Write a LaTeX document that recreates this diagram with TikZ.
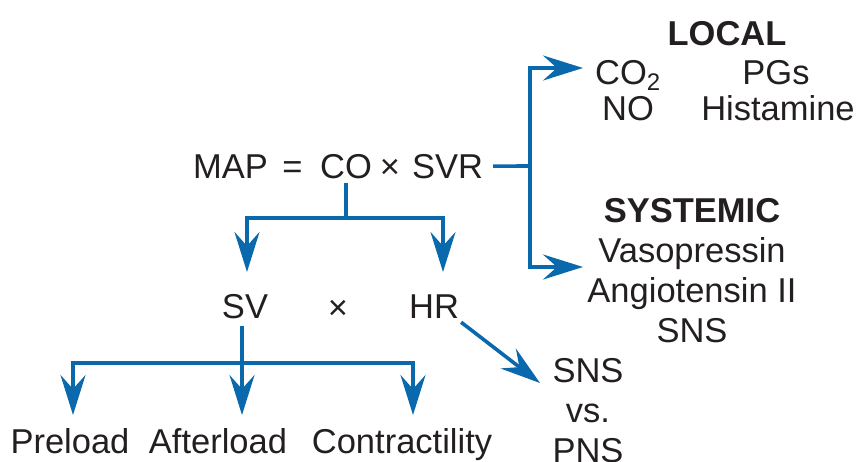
\documentclass[tikz,border=0pt]{standalone}
\usepackage{fontspec}
\setmainfont{Liberation Sans}
\usetikzlibrary{arrows.meta, positioning}
\definecolor{flow}{HTML}{0A68AD}
\definecolor{ink}{HTML}{231F20}

\begin{document}
\begin{tikzpicture}[
  x=1pt, y=-1pt,
  lbl/.style={inner sep=0pt, anchor=base, text=ink,
              font=\fontsize{34.5}{40}\selectfont},
  head/.style={lbl, font=\fontsize{34.5}{40}\selectfont\bfseries},
  line/.style={draw=flow, line width=3.6pt},
  arr/.style={line, -{Stealth[length=40pt, width=25pt, inset=14pt]}},
]
  \useasboundingbox (0,0) rectangle (858,461);

  % Equation
  \node[lbl] (map) at (230.5,178) {MAP};
  \node[lbl] (eq) at (292.5,178) {=};
  \node[lbl] (co) at (346,178) {CO};
  \node[lbl] (times) at (390,178) {×};
  \node[lbl] (svr) at (447.5,178) {SVR};

  % Local factors
  \node[head] (local) at (727,45) {LOCAL};
  \node[lbl, anchor=base west] (co2) at (595,84) {CO\raisebox{-6pt}{\fontsize{24}{24}\selectfont 2}};
  \node[lbl] (pgs) at (776,84) {PGs};
  \node[lbl] (no) at (628,120) {NO};
  \node[lbl] (hist) at (778,120) {Histamine};

  % Systemic factors (base = last line)
  \node[lbl, align=center] (sys) at (692,342) {\textbf{SYSTEMIC}\\Vasopressin\\Angiotensin II\\SNS};

  % CO split
  \node[lbl] (sv) at (245,318) {SV};
  \node[lbl] (times2) at (338,319) {×};
  \node[lbl] (hr) at (434,318) {HR};

  % SV split
  \node[lbl] (pre) at (70,453) {Preload};
  \node[lbl] (aft) at (218,453) {Afterload};
  \node[lbl] (con) at (402,453) {Contractility};

  % HR control
  \node[lbl, align=center] (auto) at (588,462) {SNS\\vs.\\PNS};

  % Junctions and tips
  \coordinate (rjn) at (530,166);
  \coordinate (loctip) at (583,68);
  \coordinate (systip) at (583,267);
  \coordinate (cojn) at (346,218);
  \coordinate (svtip) at (247,272);
  \coordinate (hrtip) at (443,272);
  \coordinate (svjn) at (242,363);
  \coordinate (pretip) at (73,415);
  \coordinate (afttip) at (242,415);
  \coordinate (contip) at (413,415);
  \coordinate (autotip) at (540,383);

  % SVR -> local / systemic
  \draw[line] ([xshift=10pt]svr.east) -- (rjn);
  \draw[arr] (rjn) |- (loctip);
  \draw[arr] (rjn) |- (systip);

  % CO -> SV, HR
  \draw[line] ([yshift=-4pt]co.south) -- (cojn);
  \draw[arr] (cojn) -| (svtip);
  \draw[arr] (cojn) -| (hrtip);

  % SV -> determinants
  \draw[line] (svjn |- sv.south) ++(0,7) -- (svjn);
  \draw[arr] (svjn) -| (pretip);
  \draw[arr] (svjn) -- (afttip);
  \draw[arr] (svjn) -| (contip);

  % HR -> autonomic
  \draw[arr] ([shift={(2pt,-4pt)}]hr.south east) -- (autotip);

\end{tikzpicture}
\end{document}
